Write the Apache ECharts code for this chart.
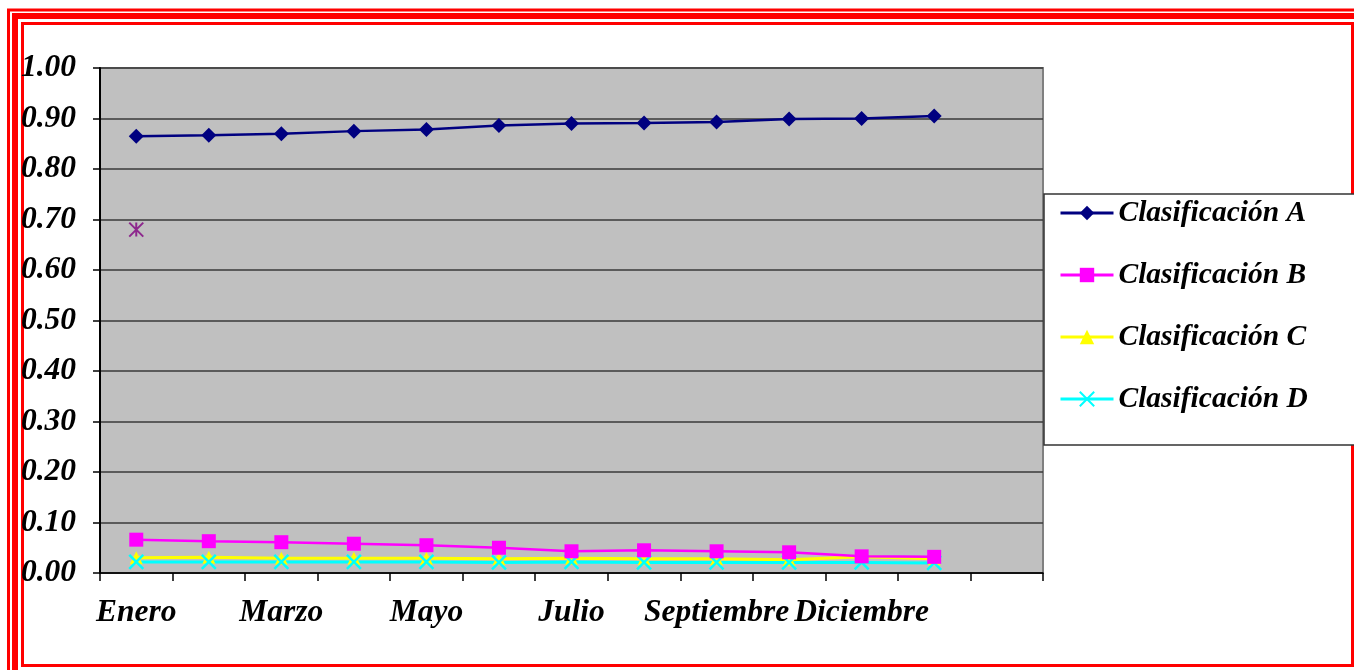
<!DOCTYPE html>
<html>
<head>
<meta charset="utf-8">
<script src="https://cdn.jsdelivr.net/npm/echarts@6/dist/echarts.min.js"></script>
<style>
  html, body { margin: 0; padding: 0; background: #fff; }
  #c { width: 1354px; height: 670px; }
</style>
</head>
<body>
<div id="c"></div>
<script>
// Meses del eje X (solo se rotulan los pares)
const meses = ['Enero', 'Febrero', 'Marzo', 'Abril', 'Mayo', 'Junio', 'Julio',
               'Agosto', 'Septiembre', 'Octubre', 'Diciembre', 'Enero ', ''];

// Proporción por clasificación
const clasifA = [0.865, 0.867, 0.870, 0.875, 0.878, 0.886, 0.890, 0.891, 0.893, 0.899, 0.900, 0.905];
const clasifB = [0.066, 0.063, 0.061, 0.058, 0.055, 0.050, 0.043, 0.045, 0.043, 0.041, 0.033, 0.032];
const clasifC = [0.030, 0.031, 0.029, 0.029, 0.029, 0.028, 0.029, 0.028, 0.028, 0.026, 0.032, 0.028];
const clasifD = [0.022, 0.022, 0.022, 0.022, 0.022, 0.021, 0.022, 0.021, 0.021, 0.021, 0.021, 0.020];
const otros   = [0.68];

const nombres = ['Clasificación A', 'Clasificación B', 'Clasificación C', 'Clasificación D'];

const fuente = { fontFamily: 'Liberation Serif', fontWeight: 'bold', fontStyle: 'italic', color: '#000' };

const chart = echarts.init(document.getElementById('c'), null, { renderer: 'canvas' });

chart.setOption({
  backgroundColor: '#fff',
  animation: false,
  graphic: [
    // marco rojo de tres líneas
    { type: 'rect', z: 0, shape: { x: 8.5, y: 10, width: 1400, height: 700 },
      style: { fill: null, stroke: '#FF0000', lineWidth: 3 } },
    { type: 'rect', z: 0, shape: { x: 15, y: 16, width: 1400, height: 700 },
      style: { fill: null, stroke: '#FF0000', lineWidth: 6 } },
    { type: 'rect', z: 0, shape: { x: 22.5, y: 23.5, width: 1330, height: 642 },
      style: { fill: null, stroke: '#FF0000', lineWidth: 3 } },
    // recuadro de la leyenda
    { type: 'rect', z: 1, shape: { x: 1044, y: 194, width: 330, height: 251 },
      style: { fill: '#fff', stroke: '#333', lineWidth: 1.5 } }
  ],
  grid: {
    left: 100, top: 68, width: 943, height: 505,
    show: true, backgroundColor: '#C0C0C0', borderColor: '#808080', borderWidth: 2
  },
  legend: {
    data: nombres,
    orient: 'vertical',
    left: 1054, top: 193,
    z: 10,
    itemWidth: 53, itemHeight: 18, itemGap: 32,
    lineStyle: { width: 3 },
    textStyle: Object.assign({ fontSize: 29.5 }, fuente)
  },
  xAxis: {
    type: 'category',
    data: meses,
    boundaryGap: true,
    axisLine: { lineStyle: { color: '#000', width: 1.5 } },
    axisTick: { show: true, interval: 0, length: 8, lineStyle: { color: '#000', width: 1.5 } },
    axisLabel: Object.assign({ fontSize: 31.5, interval: 1, margin: 24, hideOverlap: false }, fuente),
    splitLine: { show: false }
  },
  yAxis: {
    type: 'value',
    min: 0, max: 1, interval: 0.1,
    axisLine: { show: true, lineStyle: { color: '#000', width: 2 } },
    axisTick: { show: true, length: 7, lineStyle: { color: '#000', width: 1.5 } },
    axisLabel: Object.assign({ fontSize: 31.5, margin: 24, formatter: v => v.toFixed(2) }, fuente),
    splitLine: { show: true, lineStyle: { color: '#3a3a3a', width: 1.5 } }
  },
  series: [
    { name: nombres[0], type: 'line', data: clasifA, z: 5,
      symbol: 'diamond', symbolSize: 15,
      lineStyle: { color: '#000080', width: 2.5 },
      itemStyle: { color: '#000080' } },
    { name: nombres[1], type: 'line', data: clasifB, z: 4,
      symbol: 'rect', symbolSize: 14,
      lineStyle: { color: '#FF00FF', width: 2.5 },
      itemStyle: { color: '#FF00FF' } },
    { name: nombres[2], type: 'line', data: clasifC, z: 3,
      symbol: 'triangle', symbolSize: 13,
      lineStyle: { color: '#FFFF00', width: 3 },
      itemStyle: { color: '#FFFF00' } },
    { name: nombres[3], type: 'line', data: clasifD, z: 3,
      symbol: 'path://M0,0L10,10M10,0L0,10', symbolSize: 14,
      lineStyle: { color: '#00FFFF', width: 3 },
      itemStyle: { color: '#00FFFF', borderColor: '#00FFFF', borderWidth: 2.5 } },
    { name: 'Otros', type: 'scatter', data: otros, z: 5,
      symbol: 'path://M5,0L5,10M0,0L10,10M10,0L0,10', symbolSize: 14,
      itemStyle: { color: '#800080', borderColor: '#800080', borderWidth: 2 } }
  ]
});
</script>
</body>
</html>
